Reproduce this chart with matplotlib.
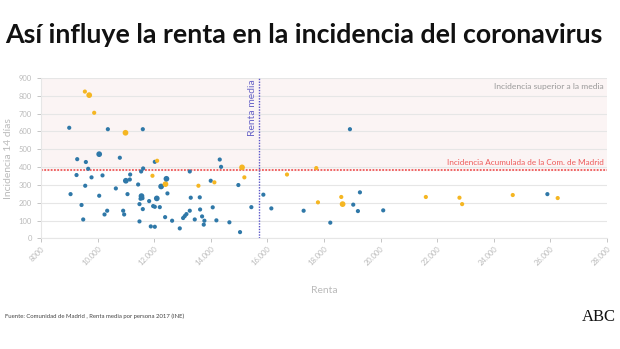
import matplotlib
matplotlib.use('Agg')
import matplotlib.pyplot as plt
from matplotlib.ticker import FuncFormatter

plt.rcParams['font.family'] = ['Lato', 'DejaVu Sans']

# Renta media por persona (euros), incidencia a 14 dias, color (0 azul, 1 amarillo), tamano (0 pequeno, 1 grande)
renta = [9000, 9047, 9282, 9588, 9670, 9258, 9565, 9788, 9435, 9494,
         9553, 9706, 9882, 10059, 10059, 10176, 10247, 10341, 10365, 10647,
         10788, 10906, 10941, 10988, 11000, 11059, 11141, 11153, 11435, 11482,
         11482, 11541, 11612, 11600, 11553, 11520, 11588, 11541, 11600, 11824,
         11882, 11965, 12024, 12024, 12024, 12106, 11941, 12094, 12200, 12247,
         12400, 12435, 12470, 12388, 12635, 12906, 13024, 13082, 13141, 13259,
         13259, 13294, 13435, 13565, 13612, 13624, 13694, 13776, 13753, 14000,
         14129, 14070, 14200, 14318, 14365, 14659, 14976, 15035, 15106, 15188,
         15435, 15859, 16141, 16694, 17282, 17729, 17788, 18224, 18612, 18659,
         18918, 19035, 19200, 19271, 20094, 21600, 22788, 22882, 24671, 25894,
         26259]
incidencia = [620, 248, 444, 428, 390, 355, 295, 342, 187, 106,
              823, 803, 704, 472, 239, 353, 134, 155, 612, 280,
              452, 155, 134, 592, 323, 248, 330, 358, 302, 192,
              95, 375, 392, 612, 237, 222, 225, 230, 164, 209,
              67, 181, 177, 65, 429, 435, 351, 224, 175, 291,
              304, 334, 252, 119, 99, 56, 114, 125, 136, 375,
              155, 228, 106, 295, 230, 162, 123, 99, 77, 323,
              314, 174, 101, 442, 401, 90, 299, 35, 398, 342,
              175, 245, 168, 358, 155, 394, 202, 88, 232, 192,
              612, 189, 153, 258, 157, 232, 228, 192, 243, 248,
              226]
grupo = [0, 0, 0, 0, 0, 0, 0, 0, 0, 0,
         1, 1, 1, 0, 0, 0, 0, 0, 0, 0,
         0, 0, 0, 1, 0, 0, 0, 0, 0, 0,
         0, 0, 0, 0, 0, 0, 0, 0, 0, 0,
         0, 0, 0, 0, 0, 1, 1, 0, 0, 0,
         1, 0, 0, 0, 0, 0, 0, 0, 0, 0,
         0, 0, 0, 1, 0, 0, 0, 0, 0, 0,
         1, 0, 0, 0, 0, 0, 0, 0, 1, 1,
         0, 0, 0, 1, 0, 1, 1, 0, 1, 1,
         0, 0, 0, 0, 0, 1, 1, 1, 1, 0,
         1]
tamano = [0, 0, 0, 0, 0, 0, 0, 0, 0, 0,
          0, 1, 0, 1, 0, 0, 0, 0, 0, 0,
          0, 0, 0, 1, 1, 0, 0, 0, 0, 0,
          0, 0, 0, 0, 1, 0, 0, 0, 0, 0,
          0, 0, 0, 0, 0, 0, 0, 1, 0, 1,
          1, 1, 0, 0, 0, 0, 0, 0, 0, 0,
          0, 0, 0, 0, 0, 0, 0, 0, 0, 0,
          0, 0, 0, 0, 0, 0, 0, 0, 1, 0,
          0, 0, 0, 0, 0, 0, 0, 0, 0, 1,
          0, 0, 0, 0, 0, 0, 0, 0, 0, 0,
          0]

media_incidencia = 386
media_renta = 15700

azul = '#2f78a8'
amarillo = '#f5b622'
gris = '#bbbbbb'

colores = [amarillo if g else azul for g in grupo]
sizes = [17 if t else 9 for t in tamano]

fig = plt.figure(figsize=(6.2, 3.49), dpi=100)
ax = fig.add_axes([0.066, 0.317, 0.913, 0.460])

ax.axhspan(media_incidencia, 900, color='#fbf4f4', zorder=0)
ax.scatter(renta, incidencia, s=sizes, c=colores, linewidths=0, zorder=3)

ax.axhline(media_incidencia, color='#ee5a5a', lw=1.3, ls=(0, (1, 0.8)), zorder=2)
ax.axvline(media_renta, color='#5a55c8', lw=1, ls=(0, (1, 1)), zorder=2)

ax.set_xlim(8000, 28000)
ax.set_ylim(0, 900)
ax.set_xticks(range(8000, 28001, 2000))
ax.set_yticks(range(0, 901, 100))
ax.xaxis.set_major_formatter(FuncFormatter(
    lambda v, p: '8000' if v == 8000 else '{:,.0f}'.format(v).replace(',', '.')))
ax.grid(axis='y', color='#e6e6e6', lw=0.8, zorder=1)
ax.set_axisbelow(True)

for s in ['top', 'right']:
    ax.spines[s].set_visible(False)
for s in ['left', 'bottom']:
    ax.spines[s].set_color('#e6e6e6')
ax.tick_params(colors=gris, labelsize=5.5, length=3, width=0.6)
ax.tick_params(axis='x', pad=2)
plt.setp(ax.get_xticklabels(), rotation=45, ha='right', rotation_mode='anchor')

ax.set_xlabel('Renta', color=gris, fontsize=7.5, labelpad=14)
ax.set_ylabel('Incidencia 14 días', color=gris, fontsize=7.5, labelpad=4)

ax.text(27900, 850, 'Incidencia superior a la media', ha='right', va='center',
        color='#9a9a9a', fontsize=6.1)
ax.text(27900, 428, 'Incidencia Acumulada de la Com. de Madrid', ha='right', va='center',
        color='#ee5a5a', fontsize=5.9)
ax.text(media_renta - 60, 890, 'Renta media', rotation=90, ha='right', va='top',
        color='#6a66c8', fontsize=7.5)

fig.text(0.008, 0.9, 'Así influye la renta en la incidencia del coronavirus',
         fontsize=19.3, fontweight='bold', color='#111111', va='center')
fig.text(0.008, 0.093, 'Fuente: Comunidad de Madrid , Renta media por persona 2017 (INE)',
         fontsize=4.3, color='#444444', va='center')
fig.text(0.993, 0.093, 'ABC', fontsize=12, family='Liberation Serif', color='#111111',
         ha='right', va='center')

fig.savefig('out.png', dpi=100)
